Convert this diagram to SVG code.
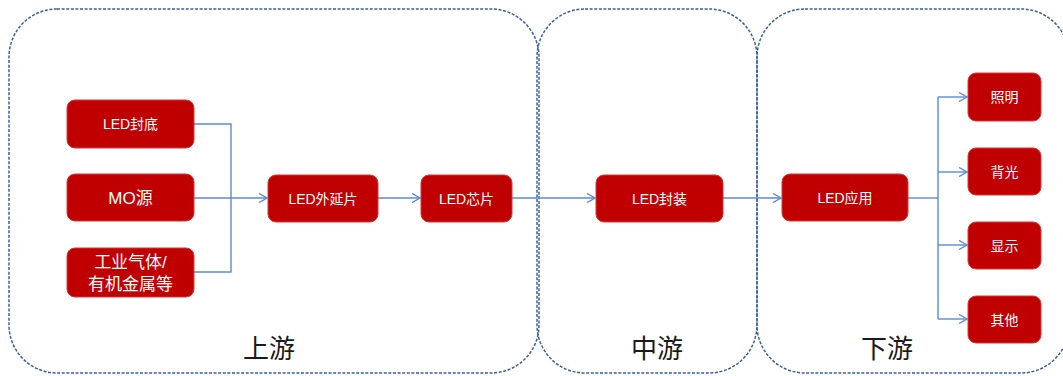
<svg xmlns="http://www.w3.org/2000/svg" width="1063" height="376" viewBox="0 0 1063 376">
<style>
.zone{fill:none;stroke:#3A5F9E;stroke-width:1.5;stroke-dasharray:3 1.6}
.node rect{fill:#C00000;stroke:#D23A3A;stroke-width:1}
.node text{fill:#fff;font-family:"Liberation Sans","Noto Sans CJK SC",sans-serif;text-anchor:middle;dominant-baseline:central}
.zl{fill:#1a1a1a;font-family:"Noto Sans CJK SC",sans-serif;font-size:26px;text-anchor:middle;dominant-baseline:central;font-weight:400}
.c{fill:none;stroke:#5B8AD6;stroke-width:1.4}
</style>
<defs>
<marker id="arr" viewBox="0 0 10 10" refX="9" refY="5" markerWidth="10" markerHeight="10" markerUnits="userSpaceOnUse" orient="auto">
<path d="M1,0.5 L9,5 L1,9.5" fill="none" stroke="#5B8AD6" stroke-width="1.4"/>
</marker>
</defs>
<g id="zones">
<rect class="zone" x="9" y="9" width="530" height="364" rx="48"/>
<rect class="zone" x="537" y="9" width="220" height="364" rx="48"/>
<rect class="zone" x="757" y="9" width="312" height="364" rx="48"/>
<text class="zl" x="269" y="346">上游</text>
<text class="zl" x="657" y="346">中游</text>
<text class="zl" x="887" y="346">下游</text>
</g>
<g id="connectors">
<path class="c" d="M194,124 H231 V272 H194"/>
<path class="c" d="M194,198 H267" marker-end="url(#arr)"/>
<path class="c" d="M378,198 H420" marker-end="url(#arr)"/>
<path class="c" d="M512,198 H595" marker-end="url(#arr)"/>
<path class="c" d="M723,198 H781" marker-end="url(#arr)"/>
<path class="c" d="M908,198 H938"/>
<path class="c" d="M938,97 V319"/>
<path class="c" d="M938,97 H967" marker-end="url(#arr)"/>
<path class="c" d="M938,172 H967" marker-end="url(#arr)"/>
<path class="c" d="M938,245 H967" marker-end="url(#arr)"/>
<path class="c" d="M938,319 H967" marker-end="url(#arr)"/>
</g>
<g id="n-fengdi" class="node"><rect x="67" y="100" width="127" height="48" rx="8"/><text x="130.5" y="124" font-size="14">LED封底</text></g>
<g id="n-mo" class="node"><rect x="67" y="174" width="127" height="47" rx="8"/><text x="130.5" y="198" font-size="17">MO源</text></g>
<g id="n-gas" class="node"><rect x="67" y="248" width="127" height="49" rx="8"/><text x="130.5" y="262" font-size="17">工业气体/</text><text x="130.5" y="284" font-size="17">有机金属等</text></g>
<g id="n-epi" class="node"><rect x="268" y="175" width="110" height="47" rx="8"/><text x="323" y="198.5" font-size="14">LED外延片</text></g>
<g id="n-chip" class="node"><rect x="421" y="175" width="91" height="47" rx="8"/><text x="466.5" y="198.5" font-size="14">LED芯片</text></g>
<g id="n-pack" class="node"><rect x="596" y="175" width="127" height="47" rx="8"/><text x="659.5" y="198.5" font-size="14">LED封装</text></g>
<g id="n-app" class="node"><rect x="782" y="174" width="126" height="47" rx="8"/><text x="845" y="197.5" font-size="14">LED应用</text></g>
<g id="n-light" class="node"><rect x="968" y="73" width="73" height="48" rx="8"/><text x="1004.5" y="97" font-size="14">照明</text></g>
<g id="n-back" class="node"><rect x="968" y="148" width="73" height="47" rx="8"/><text x="1004.5" y="171.5" font-size="14">背光</text></g>
<g id="n-disp" class="node"><rect x="968" y="222" width="73" height="47" rx="8"/><text x="1004.5" y="245.5" font-size="14">显示</text></g>
<g id="n-other" class="node"><rect x="968" y="296" width="73" height="47" rx="8"/><text x="1004.5" y="319.5" font-size="14">其他</text></g>
</svg>
